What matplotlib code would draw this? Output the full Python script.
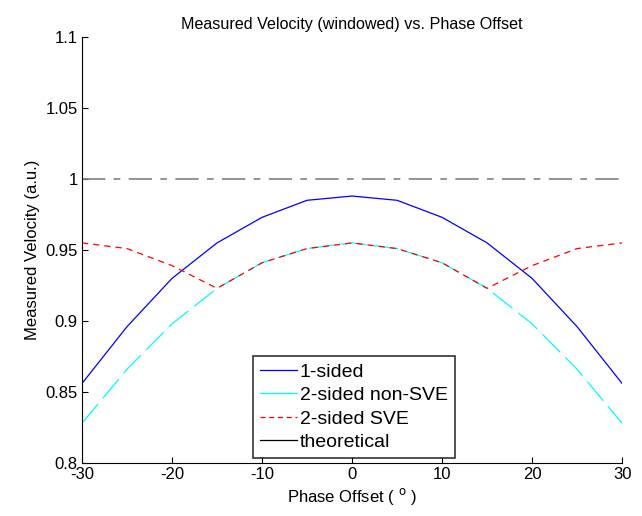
import matplotlib
matplotlib.use("Agg")
import matplotlib.pyplot as plt
from matplotlib.lines import Line2D

# phase offsets (degrees)
phase = [-30, -25, -20, -15, -10, -5, 0, 5, 10, 15, 20, 25, 30]

one_sided = [0.856, 0.896, 0.930, 0.955, 0.973, 0.985, 0.988,
             0.985, 0.973, 0.955, 0.930, 0.896, 0.856]
two_sided_non_sve = [0.828, 0.866, 0.898, 0.923, 0.941, 0.951, 0.955,
                     0.951, 0.941, 0.923, 0.898, 0.866, 0.828]
two_sided_sve = [0.955, 0.951, 0.939, 0.923, 0.941, 0.951, 0.955,
                 0.951, 0.941, 0.923, 0.939, 0.951, 0.955]
theoretical = [1.0] * len(phase)

labels = ["1-sided", "2-sided non-SVE", "2-sided SVE", "theoretical"]

plt.rcParams["font.family"] = ["Liberation Sans", "DejaVu Sans"]
plt.rcParams["font.size"] = 12
plt.rcParams["axes.unicode_minus"] = False

fig = plt.figure(figsize=(6.42, 5.16), dpi=100)
ax = fig.add_axes([0.1277, 0.1027, 0.8413, 0.8256])

ax.plot(phase, theoretical, color="#808080", lw=1.2, dashes=(14, 5, 4, 5))
ax.plot(phase, one_sided, color="blue", lw=0.9)
ax.plot(phase, two_sided_non_sve, color="cyan", lw=0.9, dashes=(20, 6))
ax.plot(phase, two_sided_sve, color="red", lw=0.9, dashes=(5, 4))

ax.set_xlim(-30, 30)
ax.set_ylim(0.8, 1.1)
ax.set_xticks(range(-30, 31, 10))
ax.set_yticks([0.8, 0.85, 0.9, 0.95, 1.0, 1.05, 1.1])
ax.set_yticklabels(["0.8", "0.85", "0.9", "0.95", "1", "1.05", "1.1"])
ax.tick_params(direction="in", length=4, width=0.8, colors="black",
               labelsize=12, pad=3)
ax.spines["top"].set_visible(False)
ax.spines["right"].set_visible(False)

ax.set_title("Measured Velocity (windowed) vs. Phase Offset", fontsize=11.6)
ax.set_xlabel("Phase Offset ( $^{\\mathrm{o}}$ )", fontsize=12, labelpad=3)
ax.set_ylabel("Measured Velocity (a.u.)", fontsize=12)

handles = [
    Line2D([], [], color="blue", lw=0.9),
    Line2D([], [], color="cyan", lw=0.9),
    Line2D([], [], color="red", lw=0.9, dashes=(4, 3)),
    Line2D([], [], color="black", lw=0.9),
]
leg = ax.legend(handles, labels, loc="lower left", bbox_to_anchor=(0.317, 0.012),
                borderaxespad=0, frameon=True, fancybox=False, handlelength=1.9,
                handletextpad=0.15, labelspacing=0.3, borderpad=0.35, fontsize=14)
leg.get_frame().set_edgecolor("black")
leg.get_frame().set_linewidth(1.2)

fig.savefig("out.png", dpi=100)
